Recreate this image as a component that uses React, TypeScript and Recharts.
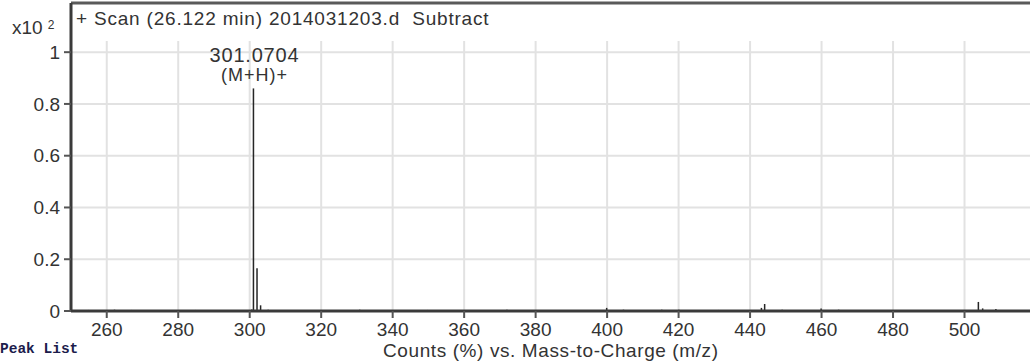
import React from 'react';
import {
  ComposedChart,
  Bar,
  XAxis,
  YAxis,
  CartesianGrid,
  ReferenceLine,
  LabelList,
} from 'recharts';

// centroid peaks: m/z and relative abundance (x10^2 counts %)
const mzValues = [
  254.9, 262.2, 266.9, 279.1, 284.8, 300.6, 301.0704, 302.07, 303.07, 305.2,
  311.9, 321.4, 330.8, 349.7, 356.9, 364.8, 372.0, 399.9, 404.6, 415.3,
  420.1, 431.2, 443.2, 444.1, 449.0, 459.9, 464.8, 476.4, 487.9, 503.9,
  505.1, 508.8,
];
const abundances = [
  0.004, 0.005, 0.004, 0.003, 0.004, 0.006, 0.86, 0.165, 0.022, 0.005,
  0.004, 0.004, 0.005, 0.004, 0.004, 0.004, 0.005, 0.012, 0.005, 0.005,
  0.005, 0.004, 0.012, 0.027, 0.005, 0.01, 0.005, 0.004, 0.004, 0.035,
  0.01, 0.008,
];
const peakAnnotations: Record<number, string> = { 301.0704: '(M+H)+' };

const xTicks = [260, 280, 300, 320, 340, 360, 380, 400, 420, 440, 460, 480, 500];
const yTicks = [0, 0.2, 0.4, 0.6, 0.8, 1];

const scanTitle = '+ Scan (26.122 min) 2014031203.d  Subtract';
const xAxisTitle = 'Counts (%) vs. Mass-to-Charge (m/z)';

const peaks = mzValues.map((mz, i) => ({
  mz,
  abund: abundances[i],
  note: peakAnnotations[mz] ?? '',
}));

const FONT = '"Liberation Sans", Arial, sans-serif';
const INK = '#333';

const PeakLabel = (props: any) => {
  const { x, y, width, index } = props;
  const p = peaks[index];
  if (!p || !p.note) return null;
  const cx = x + width / 2 + 1;
  return (
    <g fontFamily={FONT} fill={INK} textAnchor="middle">
      <text x={cx} y={y - 26} fontSize={20} letterSpacing={0.8}>
        {p.mz.toFixed(4)}
      </text>
      <text x={cx} y={y - 7} fontSize={18} letterSpacing={1}>
        {p.note}
      </text>
    </g>
  );
};

// vertical grid lines stop short of the title strip
const VerticalLine = (props: any) => (
  <line
    key={`v-${props.x1}`}
    x1={props.x1}
    x2={props.x2}
    y1={props.y1 + 38}
    y2={props.y2}
    stroke="#e2e2e2"
    strokeWidth={2}
  />
);

export default function App() {
  return (
    <div
      style={{
        position: 'fixed',
        left: 0,
        top: 0,
        width: 1030,
        height: 364,
        overflow: 'hidden',
        background: '#fff',
      }}
    >
      <ComposedChart
        width={1100}
        height={364}
        data={peaks}
        margin={{ top: 3, right: 64, bottom: 23, left: 21 }}
      >
        <CartesianGrid
          stroke="#e2e2e2"
          strokeWidth={2}
          vertical={VerticalLine}
        />
        <XAxis
          type="number"
          dataKey="mz"
          domain={[250, 520]}
          ticks={xTicks}
          allowDataOverflow
          height={30}
          axisLine={{ stroke: '#3a3a3a', strokeWidth: 3 }}
          tickLine={{ stroke: '#555', strokeWidth: 2 }}
          tickSize={7}
          tickMargin={5}
          tick={{ fill: INK, fontSize: 19, fontFamily: FONT }}
        />
        <YAxis
          type="number"
          domain={[0, 1.19]}
          ticks={yTicks}
          allowDataOverflow
          width={50}
          axisLine={{ stroke: '#3a3a3a', strokeWidth: 3 }}
          tickLine={{ stroke: '#555', strokeWidth: 2 }}
          tickSize={7}
          tickMargin={4}
          tick={{ fill: INK, fontSize: 19, fontFamily: FONT }}
        />
        <ReferenceLine y={1.19} stroke="#5a5a5a" strokeWidth={3} />
        <Bar dataKey="abund" fill="#262626" barSize={2} isAnimationActive={false}>
          <LabelList dataKey="note" content={PeakLabel} />
        </Bar>
      </ComposedChart>

      <div
        style={{
          position: 'absolute',
          left: 12,
          top: 17,
          fontFamily: FONT,
          fontSize: 19,
          color: INK,
          whiteSpace: 'nowrap',
        }}
      >
        x10
        <span style={{ fontSize: 12, position: 'relative', top: -5, marginLeft: 5 }}>2</span>
      </div>
      <div
        style={{
          position: 'absolute',
          left: 76,
          top: 8,
          fontFamily: FONT,
          fontSize: 19,
          letterSpacing: 0.8,
          color: INK,
          whiteSpace: 'pre',
        }}
      >
        {scanTitle}
      </div>
      <div
        style={{
          position: 'absolute',
          left: 383,
          top: 340,
          fontFamily: FONT,
          fontSize: 19,
          letterSpacing: 0.6,
          color: INK,
          whiteSpace: 'nowrap',
        }}
      >
        {xAxisTitle}
      </div>
      <div
        style={{
          position: 'absolute',
          left: 0,
          top: 341,
          fontFamily: '"Liberation Mono", "DejaVu Sans Mono", monospace',
          fontSize: 14.5,
          fontWeight: 'bold',
          color: '#1c1c4c',
          whiteSpace: 'nowrap',
        }}
      >
        Peak List
      </div>
    </div>
  );
}
